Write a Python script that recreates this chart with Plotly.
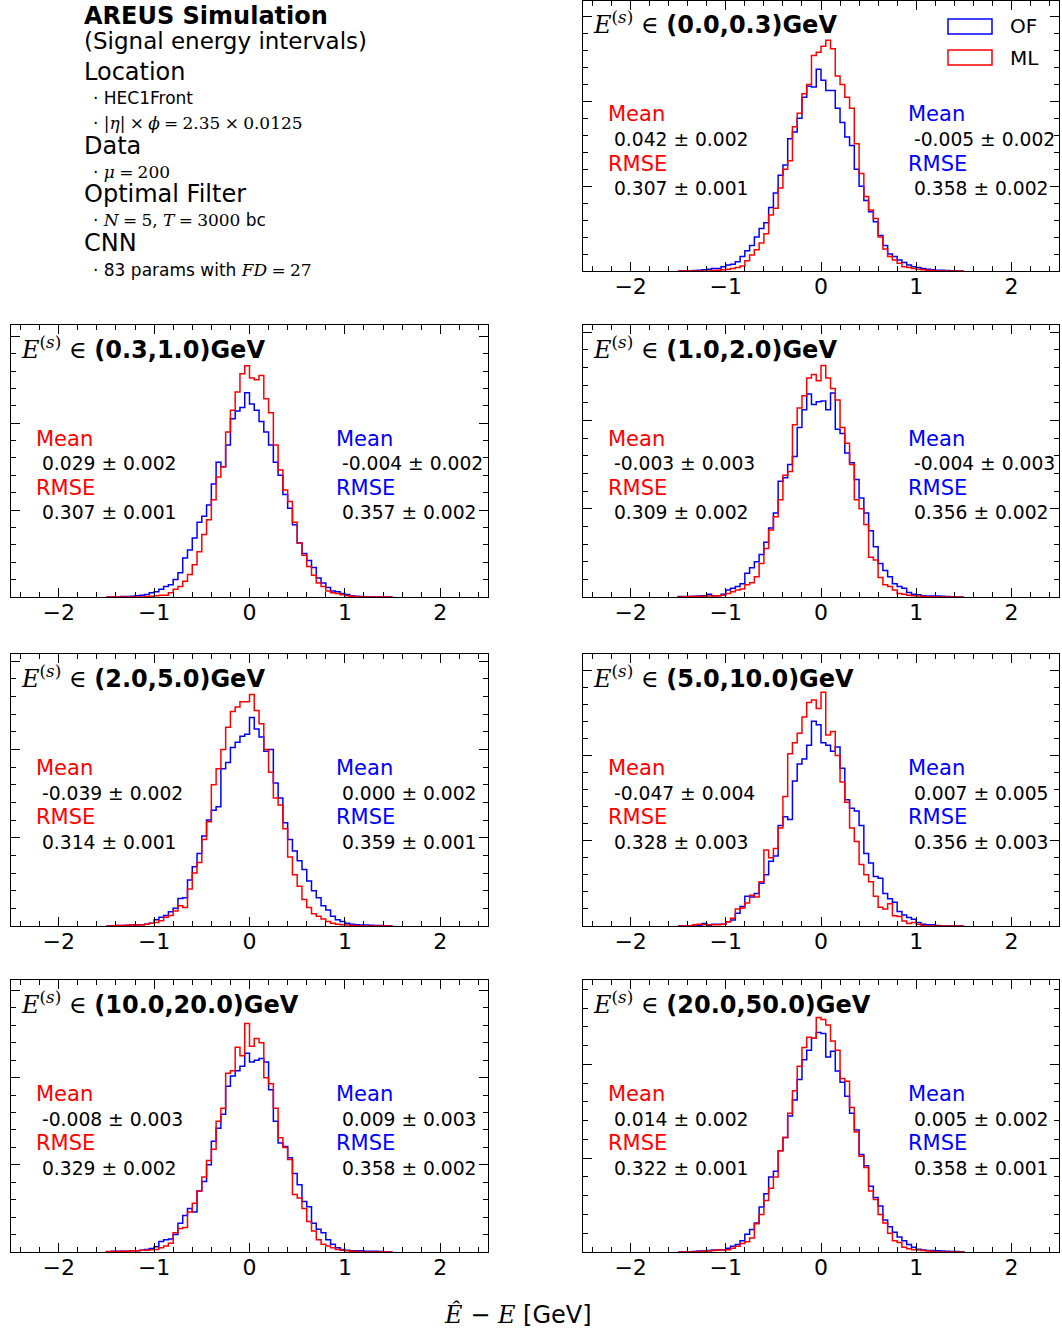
import numpy as np
import plotly.graph_objects as go

W, H = 1062, 1332

# ---------------- data ----------------
bin_lo, bin_hi, n_bins = -1.5, 1.5, 60
edges = np.linspace(bin_lo, bin_hi, n_bins + 1)

intervals = ["(0.0,0.3)", "(0.3,1.0)", "(1.0,2.0)", "(2.0,5.0)",
             "(5.0,10.0)", "(10.0,20.0)", "(20.0,50.0)"]

of_counts_1 = [0,0,0,0.5,1,1.5,2,3,3,5, 7,8,11,17,24,30,40,50,57,75, 92,113,125,156,164,180,205,218,217,238,
               225,213,213,192,175,158,148,120,100,83, 70,58,42,30,20,17,13,10,7,5, 4,3,2,1.5,1,1,0.5,0.3,0,0]
ml_counts_1 = [0,0,0,0,0,0,0,0.5,1,1.5, 2,3,4,6,12,19,25,33,44,66, 74,98,120,130,170,186,209,220,254,258,
               265,272,262,230,220,205,192,150,115,88, 72,62,40,26,17,13,9,5,4,3, 2,1.5,1,0.5,0,0,0,0,0,0]
of_counts_2 = [0,0,0,0.5,0.7,1,1.5,2,3,5, 6,9,12,14,20,28,45,54,68,86, 93,106,130,155,150,175,205,214,218,235,
               222,215,202,190,175,155,140,118,102,83, 62,50,42,34,22,16,11,7,6,4, 3,1.5,1,0.7,0.3,0,0,0,0,0]
ml_counts_2 = [0,0,0,0,0,0,0,0,0.5,1, 1.5,2,2,5,9,12,18,26,37,52, 72,89,112,138,150,190,215,236,257,266,
               252,250,255,228,212,175,146,123,110,86, 62,48,35,25,16,12,7,5,4,2.5, 1.5,0.8,0.3,0,0,0,0,0,0,0]
of_counts_3 = [0.5,0.5,0.5,0.8,1,1.5,3,1.5,1.5,3, 8,10,12,15,27,33,40,48,62,78, 95,131,135,150,159,192,212,230,218,221,
               222,212,231,190,185,163,152,133,112,95, 75,57,38,30,23,15,12,10,5,3, 2.5,1.5,1,1,1,0.8,0.5,0.3,0,0]
ml_counts_3 = [0,0.3,0.5,0.5,0.5,0.8,1,1,1.5,2, 4,6,8,9,14,16,23,38,55,76, 91,110,138,142,195,214,228,248,252,245,
               262,248,236,223,192,174,150,110,100,82, 45,42,22,14,12,8,4,3,2,1.5, 1,0.5,0.3,0,0,0,0,0,0,0]
of_counts_4 = [0,0.3,0.5,0.5,0.8,1,1,1.5,2,3, 7,10,12,16,20,31,32,52,67,82, 102,120,131,135,178,185,202,208,215,217,
               236,223,214,198,200,162,145,117,98,85, 74,64,51,40,32,23,18,11,7,5, 3,2,1.5,1,1,0.8,0.7,0.5,0.3,0]
ml_counts_4 = [0,0.3,0.5,0.5,0.8,1,1.2,1.5,2,3, 4,6,10,12,17,23,21,42,60,72, 98,118,160,178,200,225,243,248,254,254,
               262,244,229,200,174,145,137,110,78,58, 45,30,21,14,11,8,5,3,2,1.5, 1,0.5,0.3,0,0,0,0,0,0,0]
of_counts_5 = [0,0,0,0,0.5,3,1,2,2,2, 5,7,15,23,35,34,38,50,60,76, 82,118,128,125,170,190,196,212,240,236,
               215,212,205,210,185,148,138,135,118,85, 74,58,56,38,32,28,17,13,10,8, 4,2,1.5,1.5,0.5,0,0,0,0,0]
ml_counts_5 = [0,0,0,1.5,2,1.5,1.5,1.5,1.5,2, 5,9,20,21,27,36,34,52,89,80, 91,115,152,202,215,226,245,262,265,255,
               274,224,228,200,169,145,115,99,72,60, 52,35,22,20,26,12,11,6,3,4, 2,0.5,0,0,0,0,0,0,0,0]
of_counts_6 = [0.3,0.8,1,1,1,1.5,1.5,2,3,4, 6,12,14,15,20,33,42,50,46,70, 81,100,127,142,158,190,202,208,213,228,
               218,220,222,218,186,150,125,121,108,90, 77,58,52,33,26,22,14,9,5,3, 2,1.5,1.5,1.5,1,1,1,0.5,0,0]
ml_counts_6 = [0.5,0.5,0.7,1,1,1.5,1.5,2,2,2.5, 3,5,7,10,22,27,28,46,56,70, 86,105,118,150,165,205,208,235,225,262,
               236,245,240,200,193,165,131,120,106,66, 62,50,35,24,14,9,7,5,3,2, 1.5,1,0.5,0,0,0,0,0,0,0]
of_counts_7 = [0,0,0,0.5,1,1,1.5,2,2,2.5, 4,6,8,12,19,24,31,48,62,80, 86,108,122,145,162,184,205,215,228,234,
               233,208,214,193,181,166,148,130,104,92, 70,58,49,34,27,21,16,12,8,5, 3,2,1.5,1.5,1.2,1,0.8,0.5,0.5,0.3]
ml_counts_7 = [0,0,0,0,0.5,0.8,1,1.5,2,2, 2.5,4,6,9,11,15,30,40,55,68, 80,108,122,148,172,198,218,229,228,250,
               248,242,225,215,185,182,154,128,102,90, 65,56,40,31,20,12,10,5,3.5,2.5, 2,1.5,1,0.5,0,0,0,0,0,0]

of_counts = [of_counts_1, of_counts_2, of_counts_3, of_counts_4, of_counts_5, of_counts_6, of_counts_7]
ml_counts = [ml_counts_1, ml_counts_2, ml_counts_3, ml_counts_4, ml_counts_5, ml_counts_6, ml_counts_7]

ml_mean = ["0.042 ± 0.002", "0.029 ± 0.002", "-0.003 ± 0.003", "-0.039 ± 0.002",
           "-0.047 ± 0.004", "-0.008 ± 0.003", "0.014 ± 0.002"]
ml_rmse = ["0.307 ± 0.001", "0.307 ± 0.001", "0.309 ± 0.002", "0.314 ± 0.001",
           "0.328 ± 0.003", "0.329 ± 0.002", "0.322 ± 0.001"]
of_mean = ["-0.005 ± 0.002", "-0.004 ± 0.002", "-0.004 ± 0.003", "0.000 ± 0.002",
           "0.007 ± 0.005", "0.009 ± 0.003", "0.005 ± 0.002"]
of_rmse = ["0.358 ± 0.002", "0.357 ± 0.002", "0.356 ± 0.002", "0.359 ± 0.001",
           "0.356 ± 0.003", "0.358 ± 0.002", "0.358 ± 0.001"]

y_max = [319, 313, 308, 308, 319, 312, 290]

# ---------------- layout helpers ----------------
BLUE, RED = "#0000ff", "#ff0000"
SANS = "DejaVu Sans"
SERIF = "DejaVu Serif"

col_l = [11, 583]
col_r = [488, 1059]
row_t = [0.5, 325, 654, 980]
row_b = [271, 597, 926, 1252]
grid = [(0, 1), (1, 0), (1, 1), (2, 0), (2, 1), (3, 0), (3, 1)]


def px(x):
    return x / W


def py(y):
    return 1 - y / H


fig = go.Figure()
annotations = []
shapes = []

for i in range(7):
    r, c = grid[i]
    sfx = "" if i == 0 else str(i + 1)
    xa, ya = "x" + sfx, "y" + sfx
    xs = np.concatenate([[edges[0]], edges])
    for counts, color, name in ((of_counts[i], BLUE, "OF"), (ml_counts[i], RED, "ML")):
        ys = np.concatenate([[0], np.array(counts, dtype=float), [0]])
        fig.add_trace(go.Scatter(x=xs, y=ys, mode="lines", name=name, showlegend=False,
                                 line=dict(shape="hv", color=color, width=1.5),
                                 xaxis=xa, yaxis=ya, hoverinfo="skip"))
    L, R, T, B = col_l[c], col_r[c], row_t[r], row_b[r]
    axis_common = dict(showline=True, linecolor="black", linewidth=1.3, mirror="ticks",
                       ticks="inside", ticklen=9, tickwidth=1.2, tickcolor="black",
                       showgrid=False, zeroline=False, title=None)
    fig.layout["xaxis" + sfx] = dict(
        domain=[px(L), px(R)], anchor=ya, range=[-2.5, 2.5], dtick=1, tick0=0,
        ticklabelstandoff=-5,
        minor=dict(dtick=0.2, ticks="inside", ticklen=5, tickwidth=1.1, tickcolor="black"),
        tickfont=dict(family=SANS, size=22, color="black"), **axis_common)
    fig.layout["yaxis" + sfx] = dict(
        domain=[py(B), py(T)], anchor=xa, range=[0, y_max[i]], dtick=100, tick0=0,
        showticklabels=False,
        minor=dict(dtick=20, ticks="inside", ticklen=5, tickwidth=1.1, tickcolor="black"),
        **axis_common)

    def add(text, x, y, size, color="black", anchor="left"):
        annotations.append(dict(text=text, x=px(x), y=py(y), xref="paper", yref="paper",
                                xanchor=anchor, yanchor="middle", showarrow=False,
                                font=dict(family=SANS, size=size, color=color)))

    add(f"<span style='font-family:{SERIF}'><i>E</i><sup>(<i>s</i>)</sup> ∈ </span>"
        f"<b>{intervals[i]}GeV</b>", L + 8, T + 23, 24)
    add("Mean", L + 23, T + 114, 21, RED)
    add(" " + ml_mean[i], L + 23, T + 139, 18.7)
    add("RMSE", L + 23, T + 163, 21, RED)
    add(" " + ml_rmse[i], L + 23, T + 188, 18.7)
    add("Mean", L + 323, T + 114, 21, BLUE)
    add(" " + of_mean[i], L + 323, T + 139, 18.7)
    add("RMSE", L + 323, T + 163, 21, BLUE)
    add(" " + of_rmse[i], L + 323, T + 188, 18.7)

# legend (top-right panel)
for (y0, y1, color, label, yc) in ((19, 34, BLUE, "OF", 26), (50, 65, RED, "ML", 58)):
    shapes.append(dict(type="rect", xref="paper", yref="paper",
                       x0=px(948), x1=px(992), y0=py(y1), y1=py(y0),
                       line=dict(color=color, width=1.5), fillcolor="rgba(0,0,0,0)"))
    annotations.append(dict(text=label, x=px(1008), y=py(yc), xref="paper", yref="paper",
                            xanchor="left", yanchor="middle", showarrow=False,
                            font=dict(family=SANS, size=20, color="black")))

# info block (top-left)
def info(text, y, size, x=82, bold=False):
    annotations.append(dict(text=f"<b>{text}</b>" if bold else text, x=px(x), y=py(y),
                            xref="paper", yref="paper", xanchor="left", yanchor="middle",
                            showarrow=False, font=dict(family=SANS, size=size, color="black")))

ser = lambda s: f"<span style='font-family:{SERIF}'>{s}</span>"
sp = "\u2005"
info("AREUS Simulation", 16, 24, bold=True)
info("(Signal energy intervals)", 41, 23)
info("Location", 72, 24)
info("· HEC1Front", 98, 17, x=91)
info("· " + ser(f"|<i>η</i>|{sp}×{sp}<i>ϕ</i>{sp}={sp}2.35{sp}×{sp}0.0125"), 123, 17, x=91)
info("Data", 146, 24)
info("· " + ser(f"<i>μ</i>{sp}={sp}200"), 172, 17, x=91)
info("Optimal Filter", 194, 24)
info("· " + ser(f"<i>N</i>{sp}={sp}5, <i>T</i>{sp}={sp}3000") + " bc", 220, 17, x=91)
info("CNN", 243, 24)
info("· 83 params with " + ser(f"<i>FD</i>{sp}={sp}27"), 270, 17, x=91)

# common x label
annotations.append(dict(text=ser("<i>Ê</i> − <i>E</i>") + " [GeV]", x=px(518), y=py(1314),
                        xref="paper", yref="paper", xanchor="center", yanchor="middle",
                        showarrow=False, font=dict(family=SANS, size=24, color="black")))

fig.update_layout(width=W, height=H, autosize=False,
                  margin=dict(l=0, r=0, t=0, b=0, pad=0),
                  paper_bgcolor="white", plot_bgcolor="white",
                  showlegend=False, annotations=annotations, shapes=shapes)

fig.write_html("out.html")
